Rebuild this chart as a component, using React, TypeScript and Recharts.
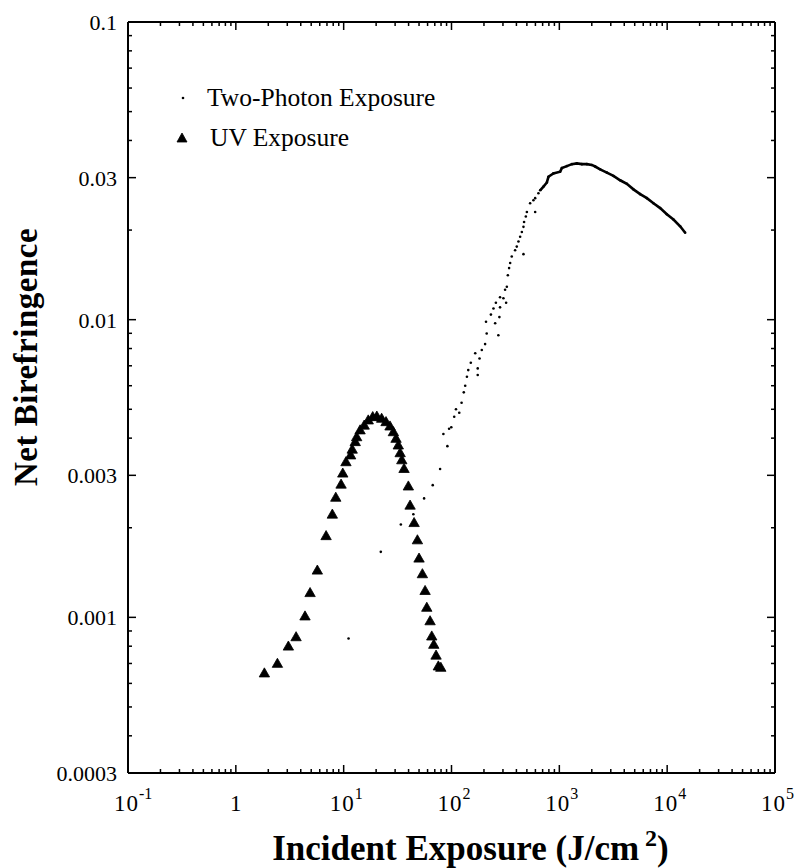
import React from 'react';
import { ScatterChart, Scatter, XAxis, YAxis, Legend } from 'recharts';

const FONT = '"Liberation Serif", "Times New Roman", serif';

// ---- axis tick definitions ----
const xMajor = [0.1, 1, 10, 100, 1000, 10000, 100000];
const xBase = ['10', '1', '10', '10', '10', '10', '10'];
const xExp = ['-1', '', '1', '2', '3', '4', '5'];
const yMajor = [0.0003, 0.001, 0.003, 0.01, 0.03, 0.1];
const yLabels = ['0.0003', '0.001', '0.003', '0.01', '0.03', '0.1'];
const minorMult = [2, 3, 4, 5, 6, 7, 8, 9];
const yDecades = [0.0001, 0.001, 0.01];

// ---- data: UV exposure (triangles) ----
const uvX = [1.84, 2.43, 3.07, 3.62, 4.38, 4.88, 5.7, 6.87, 7.85, 8.45, 9.46, 9.81, 10.5, 11.6, 12.0, 12.8, 13.2, 14.2, 15.5, 16.9, 18.6, 20.3, 22.5, 24.7, 26.9, 28.9, 30.6, 32.1, 33.4, 34.6, 36.3, 39.8, 41.3, 45.0, 48.3, 50.0, 53.7, 56.9, 59.0, 63.3, 65.6, 68.5, 71.9, 75.5, 79.6];
const uvY = [0.00065, 0.0007, 0.0008, 0.00086, 0.00101, 0.00121, 0.00144, 0.00188, 0.00222, 0.00253, 0.0028, 0.00305, 0.00333, 0.00351, 0.00367, 0.00389, 0.00404, 0.00426, 0.00442, 0.0046, 0.00472, 0.00474, 0.00466, 0.00454, 0.00439, 0.0042, 0.00399, 0.00379, 0.00357, 0.00338, 0.00316, 0.00276, 0.00238, 0.00208, 0.00182, 0.00158, 0.0014, 0.00123, 0.00108, 0.000973, 0.000865, 0.000811, 0.000746, 0.000686, 0.000679];

// ---- data: two-photon exposure (sparse dots) ----
const tpX = [11.1, 22.1, 33.9, 44.3, 55.7, 67.0, 78.4, 84.1, 91.6, 95.0, 99.6, 106, 110, 118, 124, 130, 134, 139, 175, 143, 175, 151, 182, 166, 191, 205, 212, 272, 209, 254, 278, 232, 245, 282, 258, 321, 303, 282, 314, 326, 333, 342, 350, 362, 389, 403, 465, 418, 433, 449, 465, 471, 489, 500, 597, 536, 575, 597, 640];
const tpY = [0.000849, 0.00166, 0.00205, 0.00222, 0.00251, 0.00278, 0.00315, 0.00413, 0.00376, 0.0043, 0.00435, 0.00472, 0.005, 0.00487, 0.00526, 0.0057, 0.006, 0.00643, 0.00652, 0.00677, 0.00686, 0.00717, 0.00741, 0.00771, 0.00791, 0.00828, 0.00899, 0.00887, 0.00984, 0.00973, 0.0102, 0.0104, 0.0109, 0.011, 0.0114, 0.0114, 0.0118, 0.0119, 0.0126, 0.0129, 0.0141, 0.0149, 0.0155, 0.0163, 0.0171, 0.0176, 0.0166, 0.0183, 0.019, 0.0197, 0.0205, 0.0213, 0.0222, 0.023, 0.023, 0.0246, 0.0252, 0.0256, 0.0266];

// ---- data: two-photon exposure (dense part, dots merge into a line) ----
const tpDenseX = [664, 713, 766, 793, 881, 1017, 1055, 1175, 1306, 1452, 1618, 1800, 2000, 2149, 2390, 2760, 3177, 3664, 4227, 4866, 5620, 6486, 7464, 8610, 9931, 11430, 13200, 14690];
const tpDenseY = [0.0272, 0.028, 0.0289, 0.0302, 0.031, 0.0314, 0.0323, 0.0328, 0.0333, 0.0335, 0.0333, 0.0333, 0.0331, 0.0327, 0.032, 0.0312, 0.0304, 0.0294, 0.0286, 0.0274, 0.0264, 0.0256, 0.0246, 0.0237, 0.0226, 0.0217, 0.0206, 0.0196];

const legendNames = ['Two-Photon Exposure', 'UV Exposure'];

const uvData = uvX.map((x, i) => ({ x, y: uvY[i] }));
const tpData = tpX.map((x, i) => ({ x, y: tpY[i] }));
const tpDenseData = tpDenseX.map((x, i) => ({ x, y: tpDenseY[i] }));

const fix = (v: number) => Number(v.toPrecision(3));
const xTicks = [
  ...xMajor,
  ...xMajor.slice(0, -1).flatMap((d) => minorMult.map((m) => fix(d * m))),
].sort((a, b) => a - b);
const yTicks = [
  ...yMajor,
  ...yDecades
    .flatMap((d) => minorMult.map((m) => fix(d * m)))
    .filter((v) => v > 0.0003 && v < 0.1 && !yMajor.includes(v)),
].sort((a, b) => a - b);

const MAJ = 8;
const MIN = 4;
const TS = 1.5;

const XTickBottom = (props: any) => {
  const { x, y, payload } = props;
  const i = xMajor.indexOf(payload.value);
  const len = i >= 0 ? MAJ : MIN;
  return (
    <g>
      <line x1={x} y1={y} x2={x} y2={y - len} stroke="#000" strokeWidth={TS} />
      {i >= 0 &&
        (xExp[i] ? (
          <text x={x - 14} y={y + 38} fontFamily={FONT} fontSize={23} letterSpacing={1} fill="#000">
            {xBase[i]}
            <tspan dy={-12} fontSize={16} letterSpacing={0}>{xExp[i]}</tspan>
          </text>
        ) : (
          <text x={x} y={y + 38} textAnchor="middle" fontFamily={FONT} fontSize={23} fill="#000">
            {xBase[i]}
          </text>
        ))}
    </g>
  );
};

const XTickTop = (props: any) => {
  const { x, y, payload } = props;
  const len = xMajor.includes(payload.value) ? MAJ : MIN;
  return <line x1={x} y1={y} x2={x} y2={y + len} stroke="#000" strokeWidth={TS} />;
};

const YTickLeft = (props: any) => {
  const { x, y, payload } = props;
  const i = yMajor.indexOf(payload.value);
  const len = i >= 0 ? MAJ : MIN;
  return (
    <g>
      <line x1={x} y1={y} x2={x + len} y2={y} stroke="#000" strokeWidth={TS} />
      {i >= 0 && (
        <text x={x - 11} y={y + 8} textAnchor="end" fontFamily={FONT} fontSize={22} fill="#000">
          {yLabels[i]}
        </text>
      )}
    </g>
  );
};

const YTickRight = (props: any) => {
  const { x, y, payload } = props;
  const len = yMajor.includes(payload.value) ? MAJ : MIN;
  return <line x1={x} y1={y} x2={x - len} y2={y} stroke="#000" strokeWidth={TS} />;
};

const XTitle = (props: any) => {
  const vb = props.viewBox || { x: 128, y: 773, width: 647, height: 95 };
  return (
    <text
      x={vb.x + vb.width / 2 + 19}
      y={vb.y + 87}
      textAnchor="middle"
      fontFamily={FONT}
      fontWeight={700}
      fontSize={35}
      fill="#000"
    >
      Incident Exposure (J/cm
      <tspan dx={6} dy={-14} fontSize={24}>2</tspan>
      <tspan dy={14}>)</tspan>
    </text>
  );
};

const YTitle = (props: any) => {
  const vb = props.viewBox || { x: 0, y: 22, width: 128, height: 751 };
  const cx = 37;
  const cy = vb.y + 335;
  return (
    <text
      x={cx}
      y={cy}
      transform={`rotate(-90 ${cx} ${cy})`}
      textAnchor="middle"
      fontFamily={FONT}
      fontWeight={700}
      fontSize={33}
      letterSpacing={0.5}
      fill="#000"
    >
      Net Birefringence
    </text>
  );
};

const Triangle = (props: any) => {
  const { cx, cy } = props;
  if (cx == null || cy == null) return null;
  const s = 5.2;
  return (
    <path
      d={`M${cx},${cy - s} L${cx + s},${cy + s * 0.75} L${cx - s},${cy + s * 0.75} Z`}
      fill="#000"
      stroke="#000"
      strokeWidth={0.8}
      strokeLinejoin="round"
    />
  );
};

const Dot = (props: any) => {
  const { cx, cy } = props;
  if (cx == null || cy == null) return null;
  return <circle cx={cx} cy={cy} r={1.3} fill="#000" />;
};

const LegendContent = () => (
  <div style={{ fontFamily: FONT, fontSize: 25.5, color: '#000', lineHeight: '40px', whiteSpace: 'nowrap' }}>
    <div style={{ display: 'flex', alignItems: 'center' }}>
      <svg width={31} height={20}>
        <circle cx={7} cy={10} r={1.3} fill="#000" />
      </svg>
      <span>{legendNames[0]}</span>
    </div>
    <div style={{ display: 'flex', alignItems: 'center' }}>
      <svg width={34} height={20}>
        <path d="M6,5 L11,14 L1,14 Z" fill="#000" stroke="#000" strokeWidth={0.8} strokeLinejoin="round" />
      </svg>
      <span>{legendNames[1]}</span>
    </div>
  </div>
);

export default function App() {
  return (
    <div style={{ position: 'absolute', left: 0, top: 0, width: 796, height: 868, background: '#fff' }}>
      <ScatterChart width={796} height={868} margin={{ top: 21, right: 20, bottom: 0, left: 0 }}>
        <XAxis
          xAxisId="b"
          dataKey="x"
          type="number"
          scale="log"
          domain={[0.1, 100000]}
          allowDataOverflow
          ticks={xTicks}
          interval={0}
          orientation="bottom"
          height={95}
          tickSize={0}
          tickMargin={0}
          tickLine={false}
          tick={<XTickBottom />}
          axisLine={{ stroke: '#000', strokeWidth: 2 }}
          label={<XTitle />}
        />
        <XAxis
          xAxisId="t"
          dataKey="x"
          type="number"
          scale="log"
          domain={[0.1, 100000]}
          allowDataOverflow
          ticks={xTicks}
          interval={0}
          orientation="top"
          height={1}
          tickSize={0}
          tickMargin={0}
          tickLine={false}
          tick={<XTickTop />}
          axisLine={{ stroke: '#000', strokeWidth: 2 }}
        />
        <YAxis
          yAxisId="l"
          dataKey="y"
          type="number"
          scale="log"
          domain={[0.0003, 0.1]}
          allowDataOverflow
          ticks={yTicks}
          interval={0}
          orientation="left"
          width={128}
          tickSize={0}
          tickMargin={0}
          tickLine={false}
          tick={<YTickLeft />}
          axisLine={{ stroke: '#000', strokeWidth: 2 }}
          label={<YTitle />}
        />
        <YAxis
          yAxisId="r"
          dataKey="y"
          type="number"
          scale="log"
          domain={[0.0003, 0.1]}
          allowDataOverflow
          ticks={yTicks}
          interval={0}
          orientation="right"
          width={1}
          tickSize={0}
          tickMargin={0}
          tickLine={false}
          tick={<YTickRight />}
          axisLine={{ stroke: '#000', strokeWidth: 2 }}
        />
        <Scatter
          name={legendNames[0]}
          xAxisId="b"
          yAxisId="l"
          data={tpData}
          shape={<Dot />}
          isAnimationActive={false}
        />
        <Scatter
          name={legendNames[0] + ' (dense)'}
          xAxisId="b"
          yAxisId="l"
          data={tpDenseData}
          shape={<Dot />}
          line={{ stroke: '#000', strokeWidth: 2.6 }}
          legendType="none"
          isAnimationActive={false}
        />
        <Scatter
          name={legendNames[1]}
          xAxisId="b"
          yAxisId="l"
          data={uvData}
          shape={<Triangle />}
          isAnimationActive={false}
        />
        <Legend
          layout="horizontal"
          verticalAlign="middle"
          align="center"
          content={<LegendContent />}
          wrapperStyle={{ position: 'absolute', left: 176, top: 78, width: 'auto' }}
        />
      </ScatterChart>
    </div>
  );
}
